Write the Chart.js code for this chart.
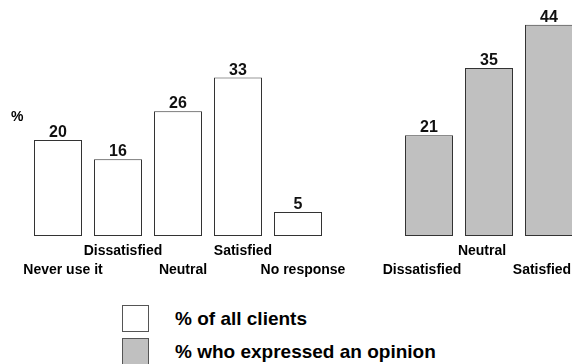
<!DOCTYPE html>
<html>
<head>
<meta charset="utf-8">
<script src="https://cdn.jsdelivr.net/npm/chart.js@4.4.1/dist/chart.umd.min.js"></script>
<style>
    html, body {
        margin: 0;
        padding: 0;
        background: #fff;
        overflow: hidden;
    }
    #wrap {
        position: relative;
        width: 572px;
        height: 364px;
        overflow: hidden;
        font-family: 'Liberation Sans', Arial, sans-serif;
    }
    #allChart {
        position: absolute;
        left: 0;
        top: 0;
    }
    #opinionChart {
        position: absolute;
        left: 370px;
        top: 0;
    }
    .pct {
        position: absolute;
        left: 11px;
        top: 108px;
        font-size: 14px;
        font-weight: bold;
    }
    .chart-legend {
        position: absolute;
        left: 122px;
        top: 305px;
    }
    .chart-legend-item {
        display: flex;
        align-items: center;
        height: 27px;
        margin-bottom: 6px;
        font-size: 19px;
        font-weight: bold;
        color: #000;
    }
    .chart-legend-color {
        display: inline-block;
        width: 27px;
        height: 27px;
        border: 1px solid #555;
        margin-right: 26px;
        box-sizing: border-box;
    }
</style>
</head>
<body>
<div id="wrap">
    <canvas id="allChart" width="360" height="290"></canvas>
    <canvas id="opinionChart" width="240" height="290"></canvas>
    <div class="pct">%</div>
</div>
<script>
// Answers across all clients
const allCategories = ['Never use it', 'Dissatisfied', 'Neutral', 'Satisfied', 'No response'];
const allValues = [20, 16, 26, 33, 5];

// Answers among those who gave an opinion
const opinionCategories = ['Dissatisfied', 'Neutral', 'Satisfied'];
const opinionValues = [21, 35, 44];

const legendLabels = ['% of all clients', '% who expressed an opinion'];
const fills = ['#ffffff', '#c0c0c0'];

const FONT = "'Liberation Sans', Arial, sans-serif";

// Number printed above each bar
const valueLabels = {
    id: 'valueLabels',
    afterDatasetsDraw(chart) {
        const ctx = chart.ctx;
        ctx.save();
        ctx.font = 'bold 16px ' + FONT;
        ctx.fillStyle = '#111';
        ctx.textAlign = 'center';
        ctx.textBaseline = 'alphabetic';
        chart.data.datasets.forEach((dataset, i) => {
            chart.getDatasetMeta(i).data.forEach((bar, j) => {
                ctx.fillText(String(dataset.data[j]), bar.x, bar.y - 3);
            });
        });
        ctx.restore();
    }
};

function makeChart(id, labels, values, fill, pad, shift) {
    const ctx = document.getElementById(id).getContext('2d');
    return new Chart(ctx, {
        type: 'bar',
        data: {
            labels: labels,
            datasets: [{
                data: values,
                backgroundColor: fill,
                borderColor: '#333',
                borderWidth: 1,
                borderSkipped: false,
                categoryPercentage: 1,
                barPercentage: 0.8
            }]
        },
        options: {
            responsive: false,
            animation: false,
            layout: { padding: pad },
            plugins: {
                legend: { display: false },
                tooltip: { enabled: false }
            },
            scales: {
                x: {
                    grid: { display: false, drawTicks: false },
                    border: { display: false },
                    afterFit: (scale) => { scale.height = 54; },
                    ticks: {
                        autoSkip: false,
                        maxRotation: 0,
                        padding: 5,
                        labelOffset: shift,
                        color: '#000',
                        font: { family: FONT, size: 14, weight: 'bold', lineHeight: 1.4 },
                        // alternate labels between two rows
                        callback: function (value, index) {
                            const label = this.getLabelForValue(value);
                            return index % 2 ? [label, ''] : ['', label];
                        }
                    }
                },
                y: {
                    display: false,
                    min: 0,
                    max: 45
                }
            }
        },
        plugins: [valueLabels]
    });
}

const allChart = makeChart('allChart', allCategories, allValues, fills[0],
    { left: 28, right: 32, top: 20, bottom: 0 }, 5);
const opinionChart = makeChart('opinionChart', opinionCategories, opinionValues, fills[1],
    { left: 29, right: 31, top: 20, bottom: 0 }, -7);

// Shared legend under both charts
function createCustomLegend() {
    const legendContainer = document.createElement('div');
    legendContainer.classList.add('chart-legend');

    legendLabels.forEach((text, index) => {
        const legendItem = document.createElement('div');
        legendItem.classList.add('chart-legend-item');

        const colorBox = document.createElement('span');
        colorBox.classList.add('chart-legend-color');
        colorBox.style.backgroundColor = fills[index];

        const labelText = document.createElement('span');
        labelText.textContent = text;

        legendItem.appendChild(colorBox);
        legendItem.appendChild(labelText);
        legendContainer.appendChild(legendItem);
    });

    document.getElementById('wrap').appendChild(legendContainer);
}

createCustomLegend();
</script>
</body>
</html>
